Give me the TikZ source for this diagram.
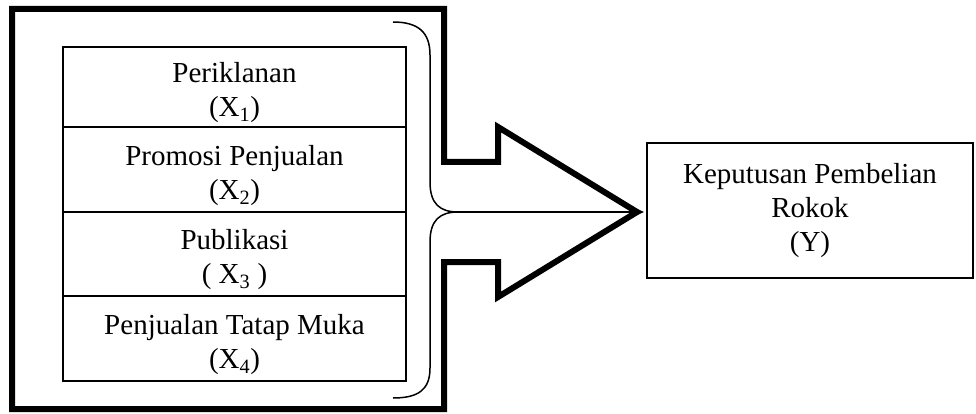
\documentclass[tikz,border=0pt]{standalone}
\usepackage{fontspec}
\setmainfont{Liberation Serif}
\usetikzlibrary{arrows.meta}
\begin{document}
\begin{tikzpicture}[x=1pt,y=-1pt,
  txt/.style={align=center,font=\fontsize{29}{34}\selectfont,inner sep=0pt},
  cell/.style={draw,line width=1.4pt,inner sep=0pt,outer sep=0pt,minimum width=343pt},
  bigarrow/.style={draw,line width=6pt,miter limit=10},
  bracel/.style={draw,line width=1.5pt},
  ybox/.style={draw,line width=1.4pt,inner sep=0pt,outer sep=0pt,minimum width=326pt,minimum height=135pt}]
\useasboundingbox (0,0) rectangle (976,414);
\fill[white] (0,0) rectangle (976,414);
% big outline arrow
\draw[bigarrow] (12,9) -- (444,9) -- (444,162) -- (498,162) -- (498,127) -- (637,212)
  -- (498,297) -- (498,262) -- (444,262) -- (444,409) -- (12,409) -- cycle;
% stacked cells
\node[cell,minimum height=80pt] (c1) at (234.5,87) {};
\node[cell,minimum height=85pt] (c2) at (234.5,169.5) {};
\node[cell,minimum height=84pt] (c3) at (234.5,254) {};
\node[cell,minimum height=85pt] (c4) at (234.5,338.5) {};
\node[txt,yshift=-6pt] (t1) at (c1.center) {Periklanan\\(X\textsubscript{1})};
\node[txt,yshift=-6pt] (t2) at (c2.center) {Promosi Penjualan\\(X\textsubscript{2})};
\node[txt,yshift=-6pt] (t3) at (c3.center) {Publikasi\\( X\textsubscript{3} )};
\node[txt,yshift=-6pt] (t4) at (c4.center) {Penjualan Tatap Muka\\(X\textsubscript{4})};
% result box
\node[ybox] (y) at (810,210.5) {};
\node[txt] (ty) at (y.center) {Keputusan Pembelian\\Rokok\\(Y)};
% brace
\coordinate (btop) at (393,22);
\coordinate (bbot) at (393,398);
\coordinate (bt) at (458,212);
\draw[bracel] (btop) .. controls (418,22) and (430,32) .. (430,55) -- (430,182)
  .. controls (430,204) and (440,212) .. (bt)
  .. controls (440,212) and (430,220) .. (430,242) -- (430,368)
  .. controls (430,390) and (418,398) .. (bbot);
\draw[line width=1.5pt,-{Stealth[length=13pt,width=11pt]},shorten >=3pt] (bt) -- (bt -| y.west);
\end{tikzpicture}
\end{document}
